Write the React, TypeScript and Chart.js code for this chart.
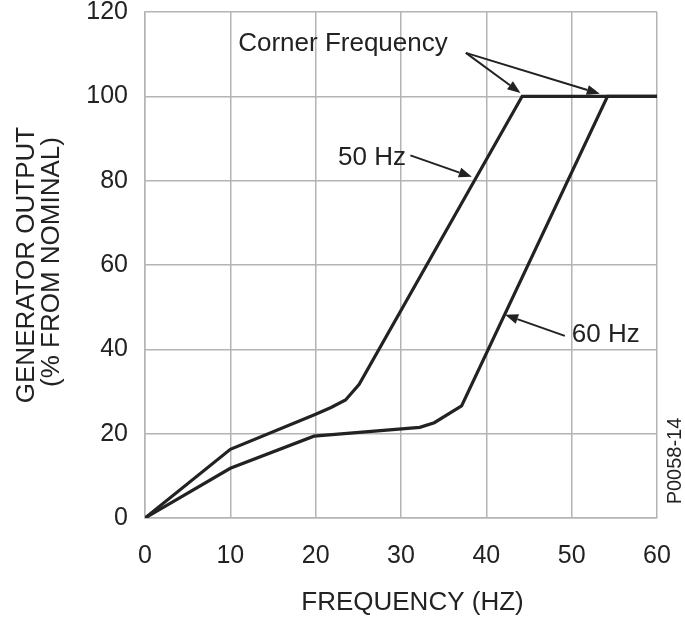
import { useEffect, useRef } from "react";
import { Chart, registerables } from "chart.js";

Chart.register(...registerables);

const FONT = '"Liberation Sans", Arial, Helvetica, sans-serif';

// 50 Hz curve
const freq50 = [0, 10, 20, 21.8, 23.5, 25.1, 44.2, 60];
const out50 = [0, 16.3, 24.6, 26.2, 28, 31.7, 100, 100];
// 60 Hz curve
const freq60 = [0, 10, 19.8, 32.2, 33.9, 37.1, 54.2, 60];
const out60 = [0, 11.8, 19.4, 21.5, 22.6, 26.6, 100, 100];

const xMin = 0, xMax = 60, xStep = 10;
const yMin = 0, yMax = 120, yStep = 20;

const xTitle = "FREQUENCY (HZ)";
const yTitleLines = ["GENERATOR OUTPUT", "(% FROM NOMINAL)"];
const figureId = "P0058-14";

// annotation texts (data coordinates)
const labelTexts = ["Corner Frequency", "50 Hz", "60 Hz"];
const labelX = [23.2, 26.6, 54.0];
const labelY = [112.5, 85.5, 43.5];
// arrows: from (x0,y0) to (x1,y1) in data units
const arrowX0 = [37.6, 37.6, 31.1, 49.2];
const arrowY0 = [110.3, 110.3, 86.0, 43.2];
const arrowX1 = [44.0, 53.3, 38.3, 42.2];
const arrowY1 = [100.8, 100.6, 80.9, 48.2];

const INK = "#222222";
const GRID = "#b4b4b4";

const annotPlugin = {
  id: "annot",
  afterDraw(chart: any) {
    const { ctx, scales, chartArea } = chart;
    const xs = scales.x, ys = scales.y;
    const px = (v: number) => xs.getPixelForValue(v);
    const py = (v: number) => ys.getPixelForValue(v);
    ctx.save();
    ctx.fillStyle = INK;
    ctx.strokeStyle = INK;
    ctx.font = `26px ${FONT}`;
    ctx.textAlign = "center";
    ctx.textBaseline = "middle";
    labelTexts.forEach((t, i) => ctx.fillText(t, px(labelX[i]), py(labelY[i])));

    // arrows
    ctx.lineWidth = 2;
    for (let i = 0; i < arrowX0.length; i++) {
      const x0 = px(arrowX0[i]), y0 = py(arrowY0[i]);
      const x1 = px(arrowX1[i]), y1 = py(arrowY1[i]);
      const ang = Math.atan2(y1 - y0, x1 - x0);
      const hl = 13, hw = 5;
      const bx = x1 - hl * Math.cos(ang), by = y1 - hl * Math.sin(ang);
      ctx.beginPath();
      ctx.moveTo(x0, y0);
      ctx.lineTo(bx, by);
      ctx.stroke();
      ctx.beginPath();
      ctx.moveTo(x1, y1);
      ctx.lineTo(bx + hw * Math.sin(ang), by - hw * Math.cos(ang));
      ctx.lineTo(bx - hw * Math.sin(ang), by + hw * Math.cos(ang));
      ctx.closePath();
      ctx.fill();
    }

    // x title
    ctx.fillText(xTitle, 412.5, 603);

    // y title
    const cy = (chartArea.top + chartArea.bottom) / 2;
    ctx.save();
    ctx.translate(27, cy);
    ctx.rotate(-Math.PI / 2);
    ctx.fillText(yTitleLines[0], 0, 0);
    ctx.restore();
    ctx.save();
    ctx.translate(52, cy - 3);
    ctx.rotate(-Math.PI / 2);
    ctx.fillText(yTitleLines[1], 0, 0);
    ctx.restore();

    // figure id
    ctx.save();
    ctx.font = `20px ${FONT}`;
    ctx.translate(675, 461);
    ctx.rotate(-Math.PI / 2);
    ctx.fillText(figureId, 0, 0);
    ctx.restore();

    ctx.restore();
  },
};

export default function App() {
  const ref = useRef<HTMLCanvasElement | null>(null);
  useEffect(() => {
    if (!ref.current) return;
    const chart = new Chart(ref.current, {
      type: "line",
      data: {
        datasets: [
          {
            label: "50 Hz",
            data: freq50.map((f, i) => ({ x: f, y: out50[i] })),
            borderColor: INK,
            borderWidth: 3.2,
            pointRadius: 0,
            tension: 0,
            fill: false,
          },
          {
            label: "60 Hz",
            data: freq60.map((f, i) => ({ x: f, y: out60[i] })),
            borderColor: INK,
            borderWidth: 3.2,
            pointRadius: 0,
            tension: 0,
            fill: false,
          },
        ],
      },
      options: {
        animation: false,
        responsive: false,
        devicePixelRatio: 1,
        layout: { padding: { left: 0, top: 12, right: 28, bottom: 0 } },
        plugins: { legend: { display: false }, tooltip: { enabled: false } },
        scales: {
          x: {
            type: "linear",
            min: xMin,
            max: xMax,
            ticks: {
              stepSize: xStep,
              color: INK,
              font: { family: FONT, size: 25 },
              padding: 23,
            },
            grid: { color: GRID, lineWidth: 1.5, drawTicks: false },
            border: { color: GRID, width: 1.5 },
            afterFit(scale: any) {
              scale.height = 103;
              scale.paddingLeft = 0;
              scale.paddingRight = 0;
            },
          },
          y: {
            type: "linear",
            min: yMin,
            max: yMax,
            ticks: {
              stepSize: yStep,
              color: INK,
              font: { family: FONT, size: 25 },
              padding: 17,
            },
            grid: { color: GRID, lineWidth: 1.5, drawTicks: false },
            border: { color: GRID, width: 1.5 },
            afterFit(scale: any) {
              scale.width = 145;
              scale.paddingTop = 0;
              scale.paddingBottom = 0;
            },
          },
        },
      },
      plugins: [annotPlugin],
    } as any);
    return () => chart.destroy();
  }, []);
  return (
    <div style={{ position: "absolute", left: 0, top: 0, width: 685, height: 621, background: "#fff" }}>
      <canvas ref={ref} width={685} height={621} style={{ width: 685, height: 621, display: "block" }} />
    </div>
  );
}
